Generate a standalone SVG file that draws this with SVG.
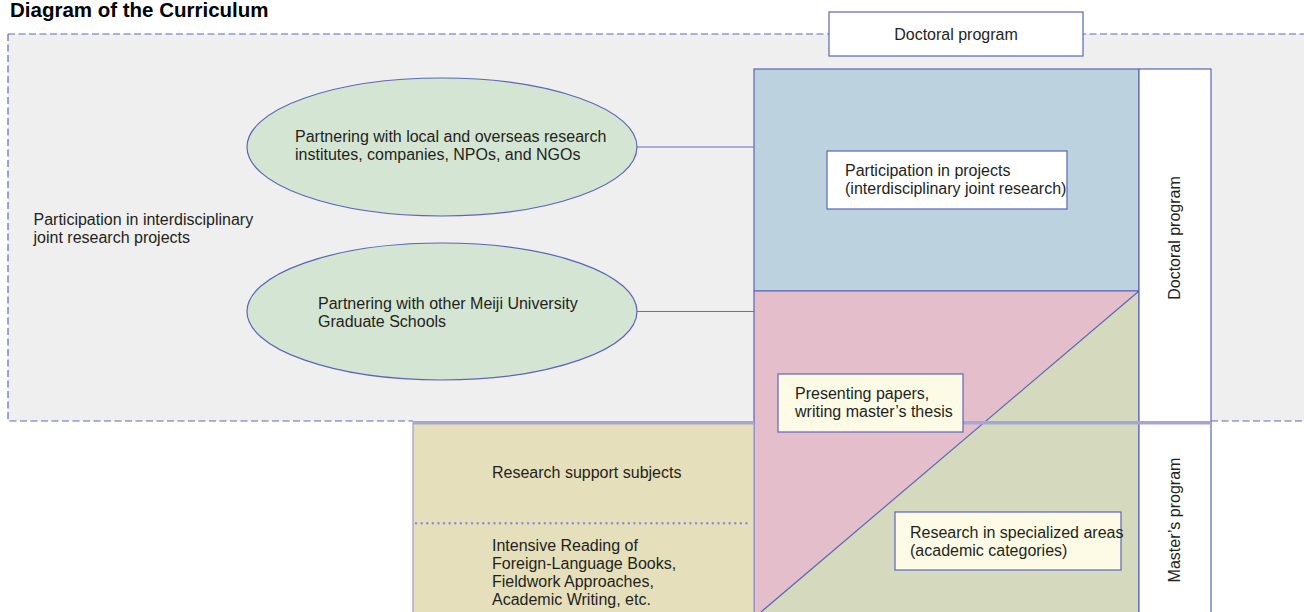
<svg xmlns="http://www.w3.org/2000/svg" width="1304" height="612" viewBox="0 0 1304 612">
<style>
text{font-family:"Liberation Sans",Arial,sans-serif;font-size:16px;fill:#231f20}
.title{font-weight:bold;font-size:20.5px;fill:#000}
.dash{stroke:#5f6abb;stroke-width:1.2;stroke-dasharray:7 3.5;fill:none}
.box{stroke:#5b66b8;stroke-width:1.2}
.conn{stroke:#6670c0;stroke-width:1.2;fill:none}
.thick{stroke:#a7a6d3;stroke-width:3.6}
</style>
<rect width="1304" height="612" fill="#fff"/>
<text class="title" x="10" y="17">Diagram of the Curriculum</text>
<g id="region">
<rect x="8" y="34" width="1300" height="387" fill="#eeefee"/>
<path class="dash" d="M8,34H1304M8,34V421H413M1211,421H1304"/>
</g>
<g id="doctoral-top">
<rect class="box" x="829" y="12" width="254" height="44" fill="#fff"/>
<text x="956" y="40" text-anchor="middle">Doctoral program</text>
</g>
<g id="column">
<rect class="box" x="754" y="69" width="385" height="222" fill="#bcd3df"/>
<polygon points="754,291 1139,291 761,612 754,612" fill="#e4bfcb"/>
<polygon points="1139,291 1139,612 761,612" fill="#d5d9bd"/>
<path class="box" d="M754,291V612M754,291H1139V612M1139,291L761,612" fill="none"/>
</g>
<g id="program-col">
<rect class="box" x="1139" y="69" width="72" height="545" fill="#fff"/>
<text transform="translate(1180,238) rotate(-90)" text-anchor="middle">Doctoral program</text>
<text transform="translate(1180,520) rotate(-90)" text-anchor="middle">Master’s program</text>
</g>
<g id="support">
<rect x="413" y="423" width="341" height="192" fill="#e6dfbb" stroke="#9a9ad0" stroke-width="1.2"/>
<line x1="416" y1="523.3" x2="750" y2="523.3" stroke="#8a8fd0" stroke-width="2.4" stroke-dasharray="0.1 5.5" stroke-linecap="round"/>
<text x="492" y="478">Research support subjects</text>
<text x="492" y="551">Intensive Reading of</text>
<text x="492" y="569">Foreign-Language Books,</text>
<text x="492" y="587">Fieldwork Approaches,</text>
<text x="492" y="605">Academic Writing, etc.</text>
</g>
<g id="connectors">
<line class="conn" x1="637" y1="147" x2="754" y2="147"/>
<line class="conn" x1="637" y1="311.5" x2="754" y2="311.5"/>
<line class="thick" x1="413" y1="422.7" x2="754" y2="422.7"/>
<line class="thick" x1="963" y1="422.7" x2="1211" y2="422.7"/>
</g>
<g id="ellipse-external">
<ellipse class="box" cx="442" cy="147" rx="195" ry="69" fill="#d5e5d3"/>
<text x="295" y="142">Partnering with local and overseas research</text>
<text x="295" y="159.7">institutes, companies, NPOs, and NGOs</text>
</g>
<g id="ellipse-meiji">
<ellipse class="box" cx="442" cy="311.5" rx="195" ry="68.5" fill="#d5e5d3"/>
<text x="318" y="309">Partnering with other Meiji University</text>
<text x="318" y="326.7">Graduate Schools</text>
</g>
<g id="participation-label">
<text x="33.5" y="225">Participation in interdisciplinary</text>
<text x="33.5" y="242.7">joint research projects</text>
</g>
<g id="projects">
<rect class="box" x="827" y="151" width="240" height="58" fill="#fff"/>
<text x="845" y="176">Participation in projects</text>
<text x="845" y="193.5">(interdisciplinary joint research)</text>
</g>
<g id="presenting">
<rect class="box" x="778" y="374" width="185" height="58" fill="#fdfbe5"/>
<text x="795" y="399">Presenting papers,</text>
<text x="795" y="416.7">writing master’s thesis</text>
</g>
<g id="specialized">
<rect class="box" x="895" y="512" width="226" height="58" fill="#fdfbe5"/>
<text x="910" y="538">Research in specialized areas</text>
<text x="910" y="555.7">(academic categories)</text>
</g>
</svg>
